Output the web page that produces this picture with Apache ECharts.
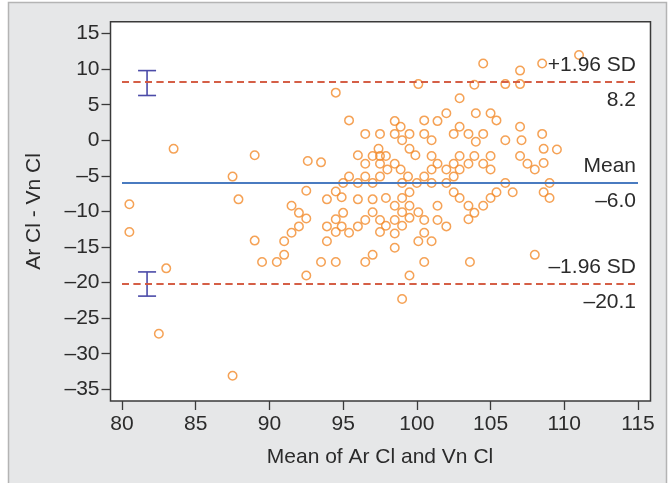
<!DOCTYPE html>
<html>
<head>
<meta charset="utf-8">
<script src="https://cdn.jsdelivr.net/npm/echarts@6/dist/echarts.min.js"></script>
<style>
html,body{margin:0;padding:0;background:#ffffff;}
#chart{width:668px;height:483px;}
</style>
</head>
<body>
<div id="chart"></div>
<script>
// ---- data ----
var meanVals = [
80.5,80.5,82.5,83.0,83.5,87.5,87.5,87.9,89.0,89.0,89.5,90.5,91.0,91.0,91.5,91.5,92.0,92.0,92.5,92.5,
92.6,92.5,93.5,93.5,93.9,93.9,93.9,94.5,94.5,94.5,94.5,94.5,94.9,95.0,94.9,95.0,95.4,95.4,95.4,96.0,
96.0,96.0,96.0,96.5,96.5,96.5,96.5,96.5,97.0,97.0,97.0,97.0,97.0,97.4,97.5,97.5,97.5,97.5,97.5,97.5,
97.9,98.0,97.9,97.9,98.5,98.5,98.5,98.5,98.5,98.5,98.5,98.9,98.9,99.0,99.0,99.0,99.0,99.0,99.0,99.5,
99.5,99.4,99.5,99.5,99.5,99.5,99.9,100.1,100.0,100.1,100.1,100.5,100.5,100.5,100.5,100.5,100.5,101.0,101.0,101.0,
101.0,101.0,101.4,101.4,101.4,101.4,102.0,102.0,102.0,102.0,102.5,102.5,102.5,102.5,102.9,102.9,102.9,102.9,102.9,103.5,
103.5,103.5,103.5,103.6,103.9,104.0,104.0,103.9,103.9,104.5,104.5,104.5,104.5,105.0,105.0,105.0,105.0,105.4,105.4,106.0,
106.0,106.0,106.5,107.0,107.0,107.0,107.1,107.0,107.5,108.0,108.0,108.5,108.5,108.6,108.6,108.6,109.0,109.0,109.5,111.0
];
var diffVals = [
-9.0,-12.9,-27.2,-18.0,-1.2,-5.1,-33.1,-8.3,-2.1,-14.1,-17.1,-17.1,-16.1,-14.2,-9.2,-13.0,-10.2,-12.1,-7.1,-11.0,
-2.9,-19.0,-3.1,-17.1,-8.3,-12.1,-14.2,6.7,-7.2,-11.1,-12.9,-17.1,-8.0,-10.2,-12.1,-6.0,2.8,-5.1,-13.0,-2.1,
-6.0,-8.3,-12.1,0.9,-3.3,-5.1,-11.2,-17.1,-2.2,-6.0,-8.3,-10.1,-16.1,-1.2,-2.2,-3.3,-5.1,0.9,-11.2,-12.9,
-2.2,-4.1,-8.1,-12.0,2.7,0.9,-3.3,-9.2,-11.2,-13.1,-15.1,1.9,-4.1,0.0,-6.0,-8.1,-10.1,-12.0,-22.3,0.9,
-1.2,-5.1,-7.3,-9.2,-10.9,-19.0,-2.1,7.9,-6.0,-10.1,-14.2,2.8,0.9,-5.1,-11.2,-13.0,-17.1,0.0,-2.2,-4.1,
-6.0,-14.2,2.7,-3.3,-9.2,-11.2,3.8,-4.1,-6.0,-12.1,0.9,-3.3,-5.1,-7.3,5.9,1.9,-2.2,-4.1,-8.1,0.9,
-3.3,-9.2,-11.1,-17.1,7.8,3.8,-0.2,-2.2,-10.2,10.8,0.9,-3.3,-9.2,3.8,-2.2,-4.1,-8.1,2.8,-7.3,7.9,
0.0,-6.0,-7.3,9.8,7.9,1.9,0.0,-2.2,-3.3,-4.1,-16.1,10.8,0.9,-1.2,-3.2,-7.3,-6.0,-8.1,-1.3,12.0
];
// limits of agreement: [upper, mean, lower]
var limitValues = [8.2, -6.0, -20.1];
var limitNames = ['+1.96 SD', 'Mean', '\u20131.96 SD'];
var limitLabels = ['8.2', '\u20136.0', '\u201320.1'];
// confidence-interval error bars: [x, low, high]
var ciX = [81.7, 81.7];
var ciLow = [6.3, -21.9];
var ciHigh = [9.8, -18.5];
// axes
var xTicks = [80, 85, 90, 95, 100, 105, 110, 115];
var yTicks = [-35, -30, -25, -20, -15, -10, -5, 0, 5, 10, 15];

var pts = meanVals.map(function (m, i) { return [m, diffVals[i]]; });
var ciData = ciX.map(function (x, i) { return [x, ciLow[i], ciHigh[i]]; });

function dash(v) { return String(v).replace('-', '\u2013'); }

var FONT = 'Liberation Sans, Arial, sans-serif';
var FS = 21;
var TXT = '#2b2b2b';

var markData = [];
var lineColors = ['#d2553b', '#4a7bc0', '#d2553b'];
var lineTypes = [[7, 4.5], 'solid', [7, 4.5]];
limitValues.forEach(function (v, i) {
  var ls = { color: lineColors[i], width: i === 1 ? 2 : 1.6, type: lineTypes[i] };
  markData.push({ yAxis: v, lineStyle: ls,
    label: { show: true, position: 'insideEndTop', formatter: limitNames[i], distance: [2, 6] } });
  markData.push({ yAxis: v, lineStyle: ls,
    label: { show: true, position: 'insideEndBottom', formatter: limitLabels[i], distance: [2, 8] } });
});

var chart = echarts.init(document.getElementById('chart'), null, { renderer: 'canvas' });
chart.setOption({
  backgroundColor: '#ffffff',
  animation: false,
  graphic: [
    { type: 'rect', z: -10, silent: true,
      shape: { x: 8.5, y: 2.5, width: 658, height: 490 },
      style: { fill: '#e6e7e8', stroke: '#b4b4b4', lineWidth: 1.5 } },
    { type: 'rect', z: -5, silent: true,
      shape: { x: 110.5, y: 21.8, width: 540, height: 379.2 },
      style: { fill: '#ffffff', stroke: '#3a3a3a', lineWidth: 1.5 } }
  ],
  grid: { left: 122, right: 30, top: 33.6, bottom: 93.7, containLabel: false },
  xAxis: {
    type: 'value', min: 80, max: 115, interval: 5, offset: 11.7,
    name: 'Mean of Ar Cl and Vn Cl', nameLocation: 'middle', nameGap: 46,
    nameTextStyle: { fontFamily: FONT, fontSize: FS, color: TXT },
    axisLine: { show: false, onZero: false },
    axisTick: { show: true, length: 9, lineStyle: { color: '#3a3a3a', width: 1.3 } },
    axisLabel: { margin: 13, fontFamily: FONT, fontSize: FS, color: TXT,
      formatter: function (v) { return xTicks.indexOf(v) >= 0 ? dash(v) : ''; } },
    splitLine: { show: false }
  },
  yAxis: {
    type: 'value', min: -35, max: 15, interval: 5, offset: 11.5,
    name: 'Ar Cl - Vn Cl', nameLocation: 'middle', nameGap: 66,
    nameTextStyle: { fontFamily: FONT, fontSize: FS, color: TXT },
    axisLine: { show: false, onZero: false },
    axisTick: { show: true, length: 9, lineStyle: { color: '#3a3a3a', width: 1.3 } },
    axisLabel: { margin: 11, fontFamily: FONT, fontSize: FS, color: TXT,
      formatter: function (v) { return yTicks.indexOf(v) >= 0 ? dash(v) : ''; } },
    splitLine: { show: false }
  },
  series: [
    {
      type: 'scatter', data: pts, symbol: 'circle', symbolSize: 8.5, z: 3,
      itemStyle: { color: 'rgba(0,0,0,0)', borderColor: '#f28b2c', borderWidth: 1.5 },
      markLine: {
        silent: true, symbol: ['none', 'none'], animation: false,
        label: { fontFamily: FONT, fontSize: FS, color: TXT },
        data: markData
      }
    },
    {
      type: 'custom', data: ciData, z: 4,
      renderItem: function (params, api) {
        var x = api.value(0);
        var lo = api.coord([x, api.value(1)]);
        var hi = api.coord([x, api.value(2)]);
        var hw = 9;
        var st = { stroke: '#4b4ba8', lineWidth: 1.6, fill: null };
        return { type: 'group', children: [
          { type: 'line', shape: { x1: lo[0], y1: lo[1], x2: hi[0], y2: hi[1] }, style: st },
          { type: 'line', shape: { x1: lo[0] - hw, y1: lo[1], x2: lo[0] + hw, y2: lo[1] }, style: st },
          { type: 'line', shape: { x1: hi[0] - hw, y1: hi[1], x2: hi[0] + hw, y2: hi[1] }, style: st }
        ] };
      }
    }
  ]
});
</script>
</body>
</html>
